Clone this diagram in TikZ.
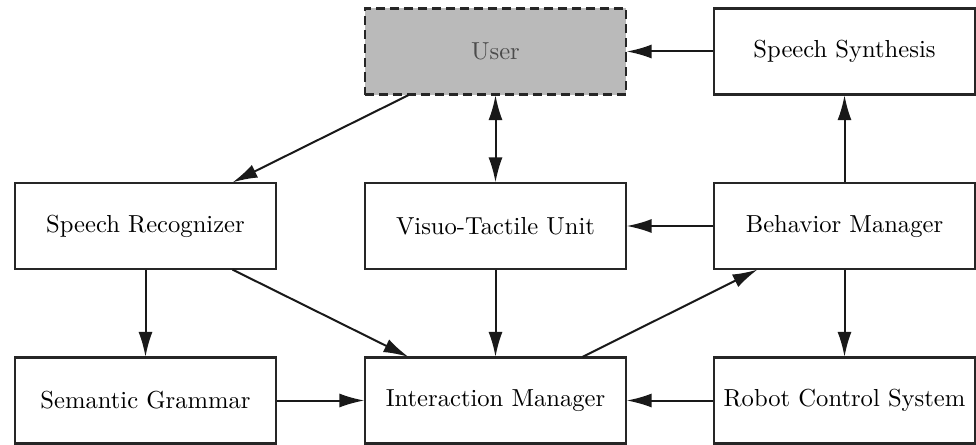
\documentclass[tikz,border=0pt]{standalone}
\usepackage{graphicx}
\usetikzlibrary{arrows.meta}
% labels set at 10pt design size, then enlarged
\newcommand{\blklabel}[1]{\scalebox{2.46}{#1}}
\begin{document}
\begin{tikzpicture}[x=1pt,y=-1pt,
  blk/.style={draw=black!85, line width=2.4pt, fill=white, minimum width=261pt,
    minimum height=86pt, inner sep=0pt, outer sep=0.6pt, font=\fontsize{10}{12}\selectfont},
  userblk/.style={blk, fill=black!27, dash pattern=on 9pt off 5pt, text=black!70},
  conn/.style={line width=2pt, draw=black!90, -{Latex[length=25pt,width=14pt]}},
  biconn/.style={conn, {Latex[length=25pt,width=14pt]}-{Latex[length=25pt,width=14pt]}}]
\useasboundingbox (0,0) rectangle (976,444);
% top row
\node[userblk] (user) at (495.5,51.5) {\blklabel{User}};
\node[blk] (synth) at (844.5,51.5) {\blklabel{Speech Synthesis}};
% middle row
\node[blk] (recog) at (145.5,226) {\blklabel{Speech Recognizer}};
\node[blk] (vtu) at (495.5,226) {\blklabel{Visuo-Tactile Unit}};
\node[blk] (behav) at (844.5,226) {\blklabel{Behavior Manager}};
% bottom row
\node[blk] (gram) at (145.5,400.5) {\blklabel{Semantic Grammar}};
\node[blk] (inter) at (495.5,400.5) {\blklabel{Interaction Manager}};
\node[blk] (robot) at (844.5,400.5) {\blklabel{Robot Control System}};
% connectors
\draw[conn] (synth) -- (user);
\draw[conn] ([xshift=-87pt]user.south) -- ([xshift=87pt]recog.north);
\draw[biconn] (user) -- (vtu);
\draw[conn] (behav) -- (synth);
\draw[conn] (behav) -- (vtu);
\draw[conn] (recog) -- (gram);
\draw[conn] ([xshift=87pt]recog.south) -- ([xshift=-87pt]inter.north);
\draw[conn] (vtu) -- (inter);
\draw[conn] ([xshift=87pt]inter.north) -- ([xshift=-87pt]behav.south);
\draw[conn] (behav) -- (robot);
\draw[conn] (gram) -- (inter);
\draw[conn] (robot) -- (inter);
\end{tikzpicture}
\end{document}
